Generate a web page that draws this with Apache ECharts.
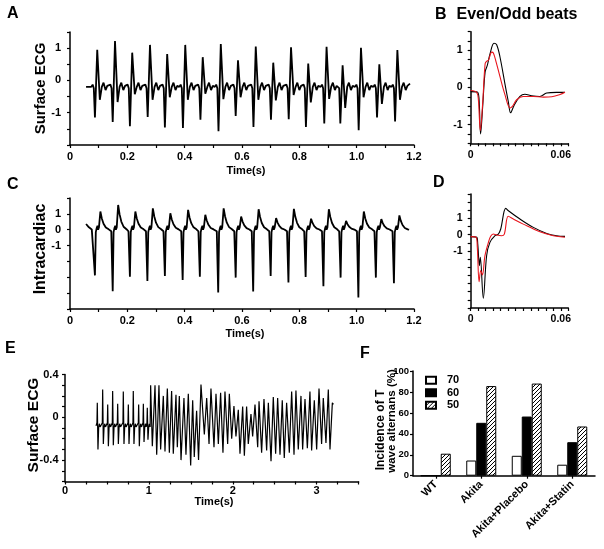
<!DOCTYPE html>
<html>
<head>
<meta charset="utf-8">
<script src="https://cdn.jsdelivr.net/npm/echarts/dist/echarts.min.js"></script>
<style>
html,body{margin:0;padding:0;background:#fff;}
#c{width:604px;height:549px;}
</style>
</head>
<body>
<div id="c"></div>
<script>
// ---------- Panel A: surface ECG (beats) ----------
const aPeakT  = [0.095,0.157,0.217,0.279,0.339,0.402,0.463,0.526,0.586,0.648,0.709,0.771,0.831,0.895,0.951,1.015,1.079,1.142];
const aPeakV  = [0.95,1.22,0.86,1.10,0.82,1.10,0.72,1.13,0.62,1.05,0.55,1.03,0.52,1.04,0.47,1.01,0.50,0.94];
const aSpikeV = [-1.15,-1.29,-1.42,-1.13,-1.46,-1.47,-1.22,-1.57,-1.10,-1.44,-1.22,-1.20,-1.44,-1.33,-1.33,-1.54,-1.15,-1.27];
const aTroughV= [-0.60,-0.67,-0.43,-0.60,-0.52,-0.60,-0.41,-0.58,-0.52,-0.60,-0.62,-0.45,-0.68,-0.57,-0.85,-0.52,-0.73,-0.60];
const aPreDt  = [-0.021,-0.016,-0.012];
const aPreV   = [-0.20,-0.13,-0.24];
const aSpikeDt = -0.008, aTroughDt = 0.009;
const aPostDt = [0.016,0.022,0.029,0.035];
const aPostV  = [-0.20,-0.07,-0.30,-0.17];
const aStart = [0.056,-0.20], aEnd = [1.186,-0.10];

// ---------- Panel B: even / odd beat averages ----------
const bBlack = [[0,-0.11],[0.0044,-0.12],[0.0055,-0.28],[0.0066,-1.25],[0.008,-0.5],[0.0096,0.42],[0.0111,0.6],[0.0129,0.91],[0.0155,1.19],[0.0173,1.15],[0.0195,0.82],[0.0228,0.1],[0.025,-0.37],[0.0266,-0.68],[0.0288,-0.49],[0.0328,-0.24],[0.0361,-0.18],[0.0406,-0.22],[0.046,-0.24],[0.0506,-0.15],[0.0572,-0.13],[0.0628,-0.13]];
const bRed   = [[0,-0.08],[0.004,-0.13],[0.0051,-0.32],[0.0064,-1.16],[0.008,-0.41],[0.0096,0.64],[0.0107,0.71],[0.0118,0.73],[0.014,0.95],[0.0151,0.93],[0.0169,0.69],[0.0195,0.29],[0.0228,-0.19],[0.0262,-0.55],[0.0279,-0.5],[0.0306,-0.33],[0.035,-0.24],[0.0417,-0.24],[0.0484,-0.26],[0.054,-0.25],[0.0595,-0.19],[0.0628,-0.13]];

// ---------- Panel C: intracardiac ----------
const cSpikeT = [0.087,0.149,0.209,0.270,0.331,0.393,0.453,0.517,0.578,0.639,0.700,0.762,0.822,0.884,0.944,1.006,1.067,1.130];
const cSpikeV = [-2.88,-3.88,-2.96,-3.23,-2.92,-3.17,-2.96,-3.96,-3.02,-3.90,-2.92,-3.33,-2.98,-3.56,-3.02,-4.27,-3.02,-3.38];
const cPeakV  = [1.15,1.56,1.15,1.35,1.04,1.25,0.94,1.35,0.83,1.29,0.73,1.31,0.69,1.29,0.56,1.15,0.67,0.90];
const cNotchDt = [0.003,0.006,0.009,0.011,0.014];
const cNotchV  = [-0.15,0.10,0.25,0.00,0.15];
const cPeakDt = 0.019;
const cDecayDt = [0.024,0.030,0.038,0.048];
const cDecayFrac = [0.62,0.33,0.12,0.02];
const cPreDt = -0.005, cPreV = -0.10;
const cStart = [[0.056,0.36],[0.066,0.15],[0.076,0.02]], cEnd = [1.183,0.0];

// ---------- Panel D: even / odd intracardiac ----------
const dBlack = [[0,-0.12],[0.004,-0.16],[0.0047,-0.57],[0.0058,-1.9],[0.0064,-1.39],[0.0084,-3.9],[0.0106,-1.29],[0.0128,-0.47],[0.0162,-0.06],[0.0184,0.04],[0.02,0.35],[0.0233,1.62],[0.0251,1.47],[0.0328,0.96],[0.0417,0.45],[0.0506,0.08],[0.0572,-0.06],[0.0628,-0.1]];
const dRed   = [[0,-0.12],[0.0036,-0.16],[0.0044,-0.77],[0.0056,-2.88],[0.0067,-2.2],[0.0078,-2.47],[0.0095,-1.29],[0.0118,-0.47],[0.0133,-0.1],[0.015,0.04],[0.0173,-0.02],[0.0206,-0.06],[0.0224,0.04],[0.025,1.13],[0.0284,0.96],[0.035,0.65],[0.0461,0.18],[0.055,-0.06],[0.0628,-0.16]];

// ---------- Panel E: surface ECG, alternans ----------
const eBeatT = [0.385,0.449,0.509,0.568,0.628,0.695,0.755,0.814,0.878,0.934,0.981];
const eUpV   = [0.135,0.26,0.12,0.245,0.126,0.24,0.12,0.245,0.12,0.126,0.09];
const eDownV = [-0.30,-0.25,-0.27,-0.26,-0.25,-0.25,-0.25,-0.25,-0.27,-0.23,-0.21];
const eBeatDt = [-0.010,-0.004,0,0.008,0.016,0.024,0.034];
const eBaseV  = [-0.08,-0.05,null,null,-0.10,-0.06,-0.09];
const eStart = [0.370,-0.08];
const eWaveT = [1.021,1.041,1.073,1.093,1.120,1.140,1.172,1.192,1.220,1.244,1.271,1.291,1.323,1.339,1.363,1.383,1.418,1.442,1.470,1.498,1.522,1.541,1.569,1.592,1.621,1.661,1.689,1.717,1.740,1.776,1.800,1.828,1.855,1.883,1.907,1.939,1.959,1.987,2.014,2.038,2.066,2.086,2.118,2.138,2.165,2.185,2.217,2.237,2.265,2.297,2.313,2.344,2.372,2.404,2.424,2.456,2.483,2.511,2.535,2.563,2.590,2.614,2.642,2.674,2.702,2.730,2.753,2.781,2.813,2.833,2.861,2.889,2.920,2.940,2.972,3.000,3.028,3.059,3.079,3.111,3.139,3.159,3.187,3.200];
const eWaveV = [0.30,-0.27,0.30,-0.35,0.30,-0.30,0.20,-0.32,0.27,-0.33,0.245,-0.34,0.21,-0.28,0.20,-0.40,0.18,-0.35,0.22,-0.45,0.16,-0.37,0.06,-0.40,0.306,-0.16,0.18,-0.25,0.27,-0.28,0.22,-0.25,0.23,-0.33,0.24,-0.25,0.22,-0.20,0.105,-0.18,0.07,-0.34,0.10,-0.36,0.10,-0.25,0.03,-0.18,0.12,-0.28,0.15,-0.33,0.17,-0.31,0.135,-0.41,0.19,-0.34,0.18,-0.35,0.16,-0.38,0.135,-0.33,0.24,-0.35,0.25,-0.30,0.20,-0.30,0.17,-0.29,0.24,-0.31,0.16,-0.30,0.27,-0.25,0.18,-0.24,0.26,-0.30,0.135,0.12];

// ---------- Panel F: incidence of T wave alternans ----------
const fCats = ['WT','Akita','Akita+Placebo','Akita+Statin'];
const f70 = [0,14.5,19,10.5];
const f60 = [0,50.5,56.5,32];
const f50 = [21,85.6,88,47];

// ---------- build traces ----------
function buildA(){
  const p=[aStart.slice()];
  aPeakT.forEach((t,i)=>{
    aPreDt.forEach((d,j)=>p.push([t+d,aPreV[j]]));
    p.push([t+aSpikeDt,aSpikeV[i]]);
    p.push([t,aPeakV[i]]);
    p.push([t+aTroughDt,aTroughV[i]]);
    aPostDt.forEach((d,j)=>p.push([t+d,aPostV[j]]));
  });
  p.push(aEnd.slice());
  return p;
}
function buildC(){
  const p=cStart.map(x=>x.slice());
  cSpikeT.forEach((t,i)=>{
    p.push([t+cPreDt,cPreV]);
    p.push([t,cSpikeV[i]]);
    cNotchDt.forEach((d,j)=>p.push([t+d,cNotchV[j]]));
    p.push([t+cPeakDt,cPeakV[i]]);
    cDecayDt.forEach((d,j)=>{ if(t+d<cEnd[0]) p.push([t+d,cDecayFrac[j]*cPeakV[i]]); });
  });
  p.push(cEnd.slice());
  return p;
}
function buildE(){
  const p=[eStart.slice()];
  eBeatT.forEach((t,i)=>{
    eBeatDt.forEach((d,j)=>{
      let v=eBaseV[j];
      if(j===2) v=eUpV[i];
      if(j===3) v=eDownV[i];
      p.push([t+d,v]);
    });
  });
  eWaveT.forEach((t,i)=>p.push([t,eWaveV[i]]));
  return p;
}

function hatch(){
  const c=document.createElement('canvas'); c.width=4; c.height=4;
  const g=c.getContext('2d');
  g.fillStyle='#fff'; g.fillRect(0,0,4,4);
  g.strokeStyle='#000'; g.lineWidth=1;
  g.beginPath();
  g.moveTo(-1,5); g.lineTo(5,-1);
  g.moveTo(-1,1); g.lineTo(1,-1);
  g.moveTo(3,5); g.lineTo(5,3);
  g.stroke();
  return c;
}

const FF='"Liberation Sans", Arial, Helvetica, sans-serif';
const near=(v,a)=>Math.abs(v-a)<1e-6;
const fmtPM1=v=>{const r=Math.round(v*100)/100; return (r===1||r===0||r===-1)?String(r):'';};
const fmtT12=v=>{const k=Math.round(v*10); return k%2===0?(k===0?'0':(k/10).toFixed(1)):'';};
const fmt006=v=>near(v,0)?'0':(near(v,0.06)?'0.06':'');
const fmtE_x=v=>{const r=Math.round(v*100)/100; return Number.isInteger(r)?String(r):'';};
const fmtE_y=v=>{const r=Math.round(v*10)/10; return r===0.4?'0.4':(r===0?'0':(r===-0.4?'-0.4':''));};

function axisBase(gi,pos,min,max,interval,fmt,fs,margin){
  return {
    gridIndex:gi, type:'value', position:pos, min:min, max:max, interval:interval,
    axisLine:{show:true,onZero:false,lineStyle:{color:'#000',width:1.5}},
    axisTick:{show:true,inside:false,length:3,lineStyle:{color:'#000',width:1.2}},
    axisLabel:{formatter:fmt,color:'#000',fontWeight:'bold',fontSize:fs,fontFamily:FF,margin:margin},
    splitLine:{show:false}
  };
}

const grids=[
  {left:70,top:32,width:344,height:113},
  {left:470.7,top:31.7,width:97.6,height:111.6},
  {left:70,top:198,width:344,height:111},
  {left:470.7,top:194,width:97.6,height:114},
  {left:65,top:374.5,width:293.6,height:107},
  {left:413,top:371,width:182,height:104.7}
];

const xAxes=[
  axisBase(0,'bottom',0,1.2,0.1,fmtT12,11,6),
  axisBase(1,'bottom',0,0.065,0.005,fmt006,10.5,6),
  axisBase(2,'bottom',0,1.2,0.1,fmtT12,11,6),
  axisBase(3,'bottom',0,0.065,0.005,fmt006,10.5,6),
  axisBase(4,'bottom',0,3.5,0.25,fmtE_x,11,4),
  {gridIndex:5,type:'category',data:fCats,position:'bottom',
   axisLine:{show:true,onZero:false,lineStyle:{color:'#000',width:1.5}},
   axisTick:{show:true,alignWithLabel:true,length:3,lineStyle:{color:'#000',width:1.2}},
   axisLabel:{rotate:45,interval:0,color:'#000',fontWeight:'bold',fontSize:11,fontFamily:FF,margin:7},
   splitLine:{show:false}}
];
const yAxes=[
  axisBase(0,'left',-2,1.5,0.5,fmtPM1,11,9),
  axisBase(1,'left',-1.5,1.5,0.25,fmtPM1,10.5,8),
  axisBase(2,'left',-5,2,1,fmtPM1,11,9),
  axisBase(3,'left',-4.5,2.5,0.5,fmtPM1,10.5,8),
  axisBase(4,'left',-0.6,0.4,0.1,fmtE_y,11,6.5),
  axisBase(5,'left',0,100,20,v=>String(v),9.5,4)
];

function lineS(xi,data,color,w,smooth){
  return {type:'line',xAxisIndex:xi,yAxisIndex:xi,data:data,showSymbol:false,symbol:'none',
    smooth:smooth||false,lineStyle:{color:color,width:w},itemStyle:{color:color},clip:true,silent:true};
}

const pat={image:hatch(),repeat:'repeat'};
const bar=(name,data,color)=>({type:'bar',name:name,xAxisIndex:5,yAxisIndex:5,data:data,barWidth:10,barGap:'0%',
  itemStyle:{color:color,borderColor:'#000',borderWidth:1}});

const txt=(t,x,y,size,opt)=>Object.assign({type:'text',x:x,y:y,silent:true,
  style:{text:t,font:'bold '+size+'px '+FF,fill:'#000',textAlign:'left',verticalAlign:'middle',textVerticalAlign:'middle'}},opt||{});
const vtxt=(t,x,y,size,align)=>({type:'text',x:x,y:y,rotation:Math.PI/2,silent:true,
  style:{text:t,font:'bold '+size+'px '+FF,fill:'#000',textAlign:align||'center',verticalAlign:'middle',textVerticalAlign:'middle'}});
const ctxt=(t,x,y,size)=>({type:'text',x:x,y:y,silent:true,
  style:{text:t,font:'bold '+size+'px '+FF,fill:'#000',textAlign:'center',verticalAlign:'middle',textVerticalAlign:'middle'}});

const chart=echarts.init(document.getElementById('c'),null,{renderer:'canvas'});
chart.setOption({
  animation:false,
  backgroundColor:'#fff',
  grid:grids,
  xAxis:xAxes,
  yAxis:yAxes,
  legend:{data:['70','60','50'],orient:'vertical',left:420,top:369.5,itemWidth:10,itemHeight:7,itemGap:1,
    icon:'rect',textStyle:{color:'#000',fontWeight:'bold',fontSize:11,fontFamily:FF,lineHeight:11.5,padding:[0,0,0,6]},
    selectedMode:false},
  series:[
    lineS(0,buildA(),'#000',1.8),
    lineS(1,bBlack,'#000',1.1,0.35),
    lineS(1,bRed,'#e8141c',1.1,0.35),
    lineS(2,buildC(),'#000',1.8),
    lineS(3,dBlack,'#000',1.1,0.35),
    lineS(3,dRed,'#e8141c',1.1,0.35),
    lineS(4,buildE(),'#000',1.2),
    bar('70',f70,'#fff'),
    bar('60',f60,'#000'),
    bar('50',f50,pat)
  ],
  graphic:[
    txt('A',7,14,16), txt('B',435,15,16), txt('Even/Odd beats',456.5,15,16),
    txt('C',7,185,16), txt('D',433,183,16), txt('E',5,349,16), txt('F',360,354,16),
    vtxt('Surface ECG',41,88.5,15), ctxt('Time(s)',246,171,11),
    vtxt('Intracardiac',41,249,16), ctxt('Time(s)',245,334,11),
    vtxt('Surface ECG',33.5,425,15.5), ctxt('Time(s)',214,502,11),
    vtxt('Incidence of T',381,430,12), vtxt('wave alternans (%)',392,421,11.5)
  ]
});
</script>
</body>
</html>
